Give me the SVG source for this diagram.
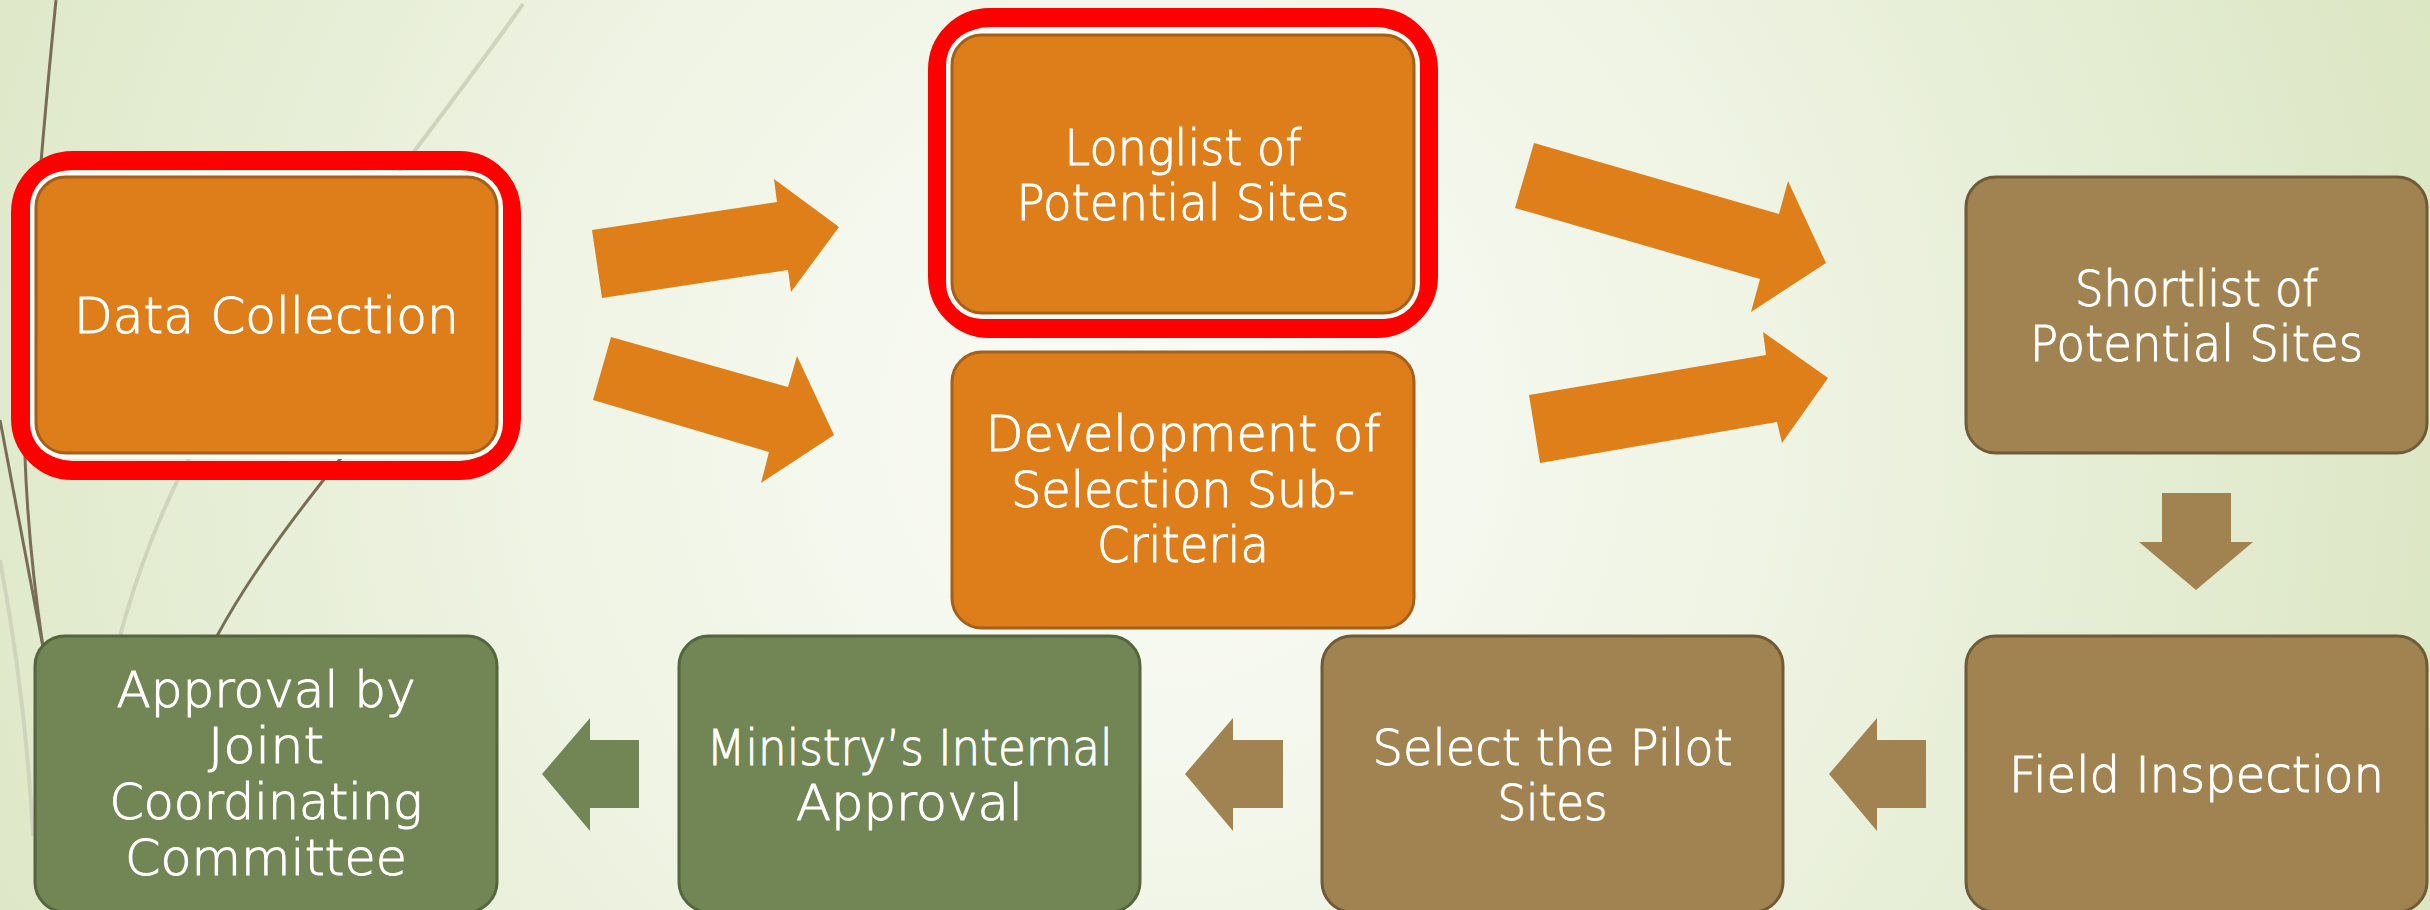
<svg xmlns="http://www.w3.org/2000/svg" width="2430" height="910" viewBox="0 0 2430 910">
<defs>
<radialGradient id="bg" cx="1150" cy="420" r="1350" gradientUnits="userSpaceOnUse">
<stop offset="0" stop-color="#fbfcf8"/>
<stop offset="0.45" stop-color="#eff4e4"/>
<stop offset="1" stop-color="#dbe6c3"/>
</radialGradient>
<style>
.t{font-family:"DejaVu Sans","Liberation Sans",sans-serif;font-size:50px;font-weight:300;fill:#ffffff;stroke:#ffffff;stroke-width:1;text-anchor:middle}
.or{fill:#dd7e1a;stroke:#a4601b;stroke-width:3}
.br{fill:#a08350;stroke:#6f5b37;stroke-width:3}
.gr{fill:#728555;stroke:#55653d;stroke-width:3}
.hl{fill:none;stroke:#ff0000;stroke-width:19}
.ring{fill:#fbfcf6}
.ao{fill:#de7f1a}
.ab{fill:#a08350}
.ag{fill:#728555}
.dk{fill:none;stroke:#7a6d55;stroke-width:3}
.lt{fill:none;stroke:#cfd5bd;stroke-width:4}
</style>
</defs>
<rect width="2430" height="910" fill="url(#bg)"/>
<g id="decor">
<path class="lt" d="M523,4 C420,150 250,360 192,453 C160,510 135,580 120,636"/>
<path class="lt" d="M0,560 C15,640 28,740 33,836"/>
<path class="dk" d="M56,0 C40,160 22,380 25,457 C28,540 36,600 43,647"/>
<path class="dk" d="M0,420 C15,500 30,580 43,647"/>
<path class="dk" d="M345,453 C295,515 250,575 217,636"/>
</g>
<g id="connectors">
<polygon class="ao" points="592,230 777,202 774,179 839,227 791,292 788,270 602,298"/>
<polygon class="ao" points="611,337 788,387 797,356 834,435 761,483 769,452 593,400"/>
<polygon class="ao" points="1534,143 1779,214 1788,181 1826,263 1751,312 1760,279 1515,208"/>
<polygon class="ao" points="1529,395 1766,355 1763,332 1828,378 1782,443 1777,422 1540,463"/>
<polygon class="ab" points="2162,493 2231,493 2231,542 2253,542 2196,590 2139,542 2162,542"/>
<polygon class="ab" points="1829,774 1877,718 1877,740 1926,740 1926,808 1877,808 1877,831"/>
<polygon class="ab" points="1185,774 1233,718 1233,740 1283,740 1283,808 1233,808 1233,831"/>
<polygon class="ag" points="542,774 590,718 590,740 639,740 639,808 590,808 590,831"/>
</g>
<g id="data-collection">
<rect class="hl" x="20.5" y="160.5" width="491" height="310" rx="52"/>
<rect class="ring" x="30" y="171" width="473" height="288" rx="36"/>
<rect class="or" x="36" y="177" width="461" height="276" rx="30"/>
<text class="t" x="266.5" y="333" textLength="385" lengthAdjust="spacingAndGlyphs">Data Collection</text>
</g>
<g id="longlist">
<rect class="hl" x="937.5" y="17.5" width="491" height="311" rx="52"/>
<rect class="ring" x="946" y="29" width="474" height="290" rx="36"/>
<rect class="or" x="952" y="35" width="462" height="278" rx="30"/>
<text class="t" x="1183" y="165" textLength="237" lengthAdjust="spacingAndGlyphs">Longlist of</text>
<text class="t" x="1183" y="220" textLength="333" lengthAdjust="spacingAndGlyphs">Potential Sites</text>
</g>
<g id="development">
<rect class="or" x="952" y="352" width="462" height="276" rx="30"/>
<text class="t" x="1183" y="451" textLength="395" lengthAdjust="spacingAndGlyphs">Development of</text>
<text class="t" x="1183" y="506.5" textLength="344" lengthAdjust="spacingAndGlyphs">Selection Sub-</text>
<text class="t" x="1183" y="562" textLength="172" lengthAdjust="spacingAndGlyphs">Criteria</text>
</g>
<g id="shortlist">
<rect class="br" x="1966" y="177" width="461" height="276" rx="30"/>
<text class="t" x="2196.5" y="305.5" textLength="243" lengthAdjust="spacingAndGlyphs">Shortlist of</text>
<text class="t" x="2196.5" y="361" textLength="333" lengthAdjust="spacingAndGlyphs">Potential Sites</text>
</g>
<g id="field-inspection">
<rect class="br" x="1966" y="636" width="461" height="276" rx="30"/>
<text class="t" x="2196.5" y="792" textLength="375" lengthAdjust="spacingAndGlyphs">Field Inspection</text>
</g>
<g id="select-pilot">
<rect class="br" x="1322" y="636" width="461" height="276" rx="30"/>
<text class="t" x="1552.5" y="764.5" textLength="360" lengthAdjust="spacingAndGlyphs">Select the Pilot</text>
<text class="t" x="1552.5" y="820" textLength="110" lengthAdjust="spacingAndGlyphs">Sites</text>
</g>
<g id="ministry-approval">
<rect class="gr" x="679" y="636" width="461" height="276" rx="30"/>
<text class="t" x="909.5" y="764.5" textLength="406" lengthAdjust="spacingAndGlyphs">Ministry’s Internal</text>
<text class="t" x="909.5" y="820" textLength="227" lengthAdjust="spacingAndGlyphs">Approval</text>
</g>
<g id="jcc-approval">
<rect class="gr" x="35" y="636" width="462" height="276" rx="30"/>
<text class="t" x="266" y="707" textLength="299" lengthAdjust="spacingAndGlyphs">Approval by</text>
<text class="t" x="266" y="763" textLength="116" lengthAdjust="spacingAndGlyphs">Joint</text>
<text class="t" x="266" y="819" textLength="313" lengthAdjust="spacingAndGlyphs">Coordinating</text>
<text class="t" x="266" y="875" textLength="282" lengthAdjust="spacingAndGlyphs">Committee</text>
</g>
</svg>
